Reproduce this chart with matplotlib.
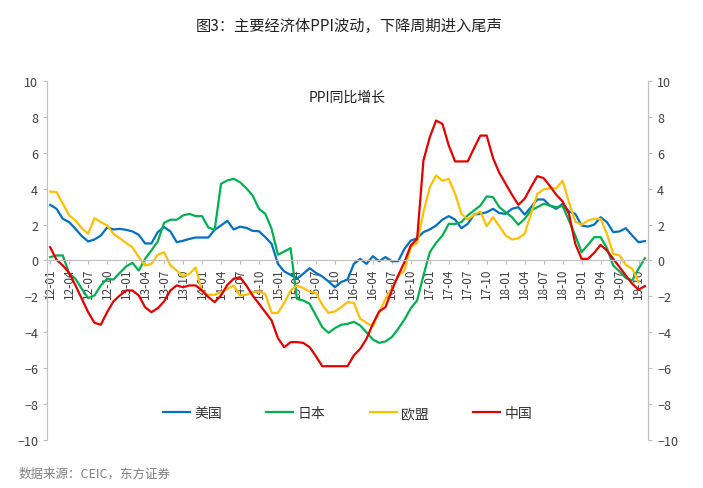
import numpy as np
import matplotlib
matplotlib.use('Agg')
import matplotlib.pyplot as plt

plt.rcParams['font.family'] = ['Noto Sans CJK SC', 'DejaVu Sans']

# monthly, 2012-01 .. 2019-11
months = ['%02d-%02d' % (y, m) for y in range(12, 20) for m in range(1, 13)][:95]

us = [3.1, 2.88, 2.32, 2.14, 1.76, 1.36, 1.06, 1.17, 1.39, 1.84,
      1.73, 1.76, 1.71, 1.62, 1.43, 0.95, 0.95, 1.58, 1.86, 1.62,
      1.02, 1.1, 1.2, 1.28, 1.28, 1.28, 1.71, 1.95, 2.21, 1.73,
      1.88, 1.82, 1.65, 1.63, 1.3, 0.93, -0.19, -0.61, -0.8, -1.02,
      -0.74, -0.43, -0.69, -0.89, -1.17, -1.49, -1.2, -1.06, -0.19, 0.09,
      -0.19, 0.24, -0.04, 0.19, -0.04, -0.04, 0.65, 1.11, 1.24, 1.58,
      1.73, 1.95, 2.28, 2.47, 2.28, 1.8, 2.04, 2.56, 2.6, 2.69,
      2.88, 2.64, 2.6, 2.88, 2.97, 2.56, 2.97, 3.4, 3.4, 3.06,
      2.88, 3.16, 2.73, 2.6, 1.95, 1.89, 2.0, 2.41, 2.14, 1.58,
      1.62, 1.8, 1.39, 1.02, 1.08]

japan = [0.19, 0.28, 0.28, -0.74, -1.02, -1.58, -2.1, -1.95, -1.39, -1.02,
         -1.06, -0.69, -0.33, -0.13, -0.56, 0.09, 0.56, 1.06, 2.1, 2.27,
         2.27, 2.51, 2.6, 2.47, 2.47, 1.84, 1.71, 4.27, 4.46, 4.55,
         4.36, 4.03, 3.62, 2.88, 2.6, 1.76, 0.32, 0.5, 0.69, -2.14,
         -2.23, -2.41, -3.06, -3.71, -4.03, -3.77, -3.58, -3.53, -3.42, -3.62,
         -4.0, -4.4, -4.59, -4.51, -4.27, -3.81, -3.29, -2.66, -2.23, -0.84,
         0.46, 0.98, 1.39, 2.04, 2.04, 2.14, 2.51, 2.79, 3.06, 3.57,
         3.53, 2.97, 2.69, 2.41, 1.99, 2.32, 2.79, 2.97, 3.16, 3.06,
         2.97, 3.03, 2.23, 1.39, 0.46, 0.87, 1.3, 1.3, 0.69, -0.28,
         -0.61, -0.98, -1.11, -0.46, 0.13]

eu = [3.84, 3.81, 3.16, 2.51, 2.23, 1.8, 1.49, 2.36, 2.14, 1.95,
      1.49, 1.24, 0.97, 0.74, 0.19, -0.28, -0.19, 0.32, 0.46, -0.28,
      -0.56, -0.87, -0.74, -0.39, -1.76, -1.91, -1.91, -1.76, -1.58, -1.39,
      -1.95, -1.91, -1.76, -1.73, -1.86, -2.92, -2.92, -2.36, -1.67, -1.39,
      -1.54, -1.73, -1.8, -2.47, -2.92, -2.84, -2.6, -2.32, -2.36, -3.25,
      -3.47, -3.68, -2.88, -2.14, -1.58, -0.87, -0.56, 0.74, 0.98, 2.69,
      4.09, 4.74, 4.44, 4.55, 3.71, 2.6, 2.28, 2.54, 2.73, 1.91,
      2.41, 1.91, 1.39, 1.17, 1.24, 1.49, 2.6, 3.71, 3.96, 4.03,
      4.03, 4.44, 3.25, 2.17, 1.99, 2.23, 2.32, 2.32, 1.49, 0.37,
      0.28, -0.24, -0.46, -1.21, np.nan]

china = [0.74, 0.04, -0.28, -0.69, -1.39, -2.14, -2.88, -3.47, -3.58, -2.88,
         -2.28, -1.95, -1.67, -1.67, -1.95, -2.6, -2.88, -2.66, -2.28, -1.67,
         -1.39, -1.49, -1.39, -1.39, -1.67, -2.04, -2.32, -1.95, -1.36, -1.02,
         -0.93, -1.39, -1.95, -2.41, -2.88, -3.34, -4.33, -4.83, -4.55, -4.55,
         -4.59, -4.83, -5.33, -5.89, -5.89, -5.89, -5.89, -5.89, -5.29, -4.92,
         -4.36, -3.53, -2.84, -2.6, -1.67, -0.84, -0.09, 0.84, 1.2, 5.57,
         6.87, 7.8, 7.61, 6.41, 5.52, 5.52, 5.52, 6.26, 6.96, 6.96,
         5.7, 4.88, 4.27, 3.66, 3.1, 3.44, 4.09, 4.7, 4.59, 4.14,
         3.66, 3.29, 2.6, 0.93, 0.09, 0.09, 0.43, 0.87, 0.56, 0.09,
         -0.37, -0.84, -1.3, -1.62, -1.43]

names = ['美国', '日本', '欧盟', '中国']
colors = ['#0070C0', '#00B050', '#FFC000', '#E00000']

fig = plt.figure(figsize=(7.03, 4.89), dpi=100)
ax = fig.add_axes([0.0669, 0.0982, 0.8549, 0.7341])
x = np.arange(len(months))
for s, n, c in zip([us, japan, eu, china], names, colors):
    ax.plot(x, s, color=c, lw=1.6, label=n)

grey = '#BFBFBF'
ax.set_xlim(-0.5, 94.5)
ax.set_ylim(-10, 10)
ax.set_yticks(range(-10, 11, 2))
ax.spines['top'].set_visible(False)
ax.spines['right'].set_color(grey)
ax.spines['left'].set_color(grey)
ax.spines['bottom'].set_position(('data', 0))
ax.spines['bottom'].set_color(grey)
ax.set_xticks(x[::3])
ax.set_xticklabels(months[::3], rotation=90, fontsize=8.5, color='#404040')
ax.tick_params(axis='x', length=3, color=grey, pad=2)
ax.tick_params(axis='y', length=3, color=grey, labelsize=9, labelcolor='#404040')

ax2 = ax.twinx()
ax2.set_ylim(-10, 10)
ax2.set_yticks(range(-10, 11, 2))
for sp in ['top', 'left', 'bottom']:
    ax2.spines[sp].set_visible(False)
ax2.spines['right'].set_color(grey)
ax2.tick_params(axis='y', length=3, color=grey, labelsize=9, labelcolor='#404040')

ax.text(0.5, 0.955, 'PPI同比增长', transform=ax.transAxes, ha='center', va='center',
        fontsize=10, color='#222222')
ax.legend(loc='center', bbox_to_anchor=(0.5, 0.075), ncol=4, frameon=False,
          fontsize=10, handlelength=1.95, columnspacing=3.2, handletextpad=0.3,
          labelcolor='#333333')

fig.text(0.497, 0.945, '图3：主要经济体PPI波动，下降周期进入尾声', ha='center', va='center',
         fontsize=11, color='#222222')
fig.text(0.026, 0.031, '数据来源：CEIC，东方证券', ha='left', va='center',
         fontsize=9, color='#7F7F7F')

fig.savefig('out.png', dpi=100)
